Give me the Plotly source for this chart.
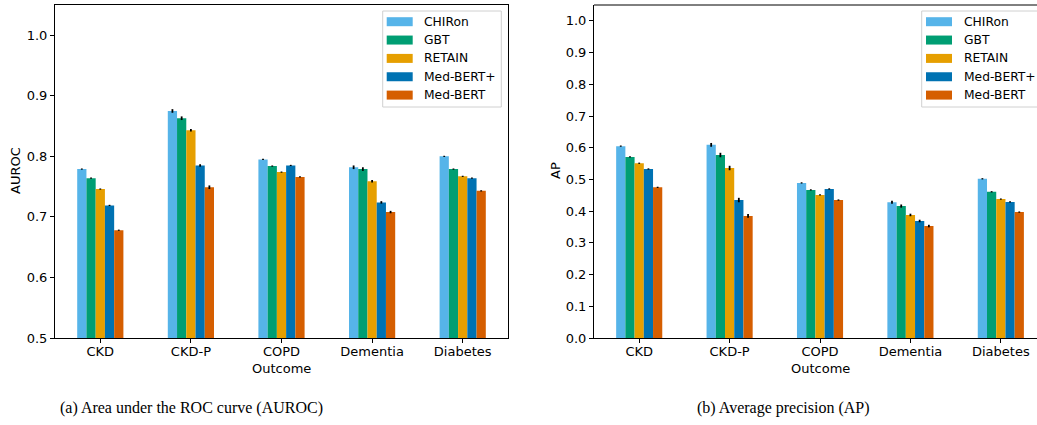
import plotly.graph_objects as go

W, H = 1037, 425

outcomes = ["CKD", "CKD-P", "COPD", "Dementia", "Diabetes"]
models = ["CHIRon", "GBT", "RETAIN", "Med-BERT+", "Med-BERT"]
colors = ["#56B4E9", "#009E73", "#E69F00", "#0072B2", "#D55E00"]

# AUROC values per model (order of outcomes)
auroc_chiron = [0.779, 0.875, 0.795, 0.782, 0.800]
auroc_gbt = [0.764, 0.863, 0.784, 0.779, 0.779]
auroc_retain = [0.746, 0.843, 0.774, 0.759, 0.767]
auroc_medbertp = [0.719, 0.785, 0.785, 0.724, 0.764]
auroc_medbert = [0.678, 0.749, 0.766, 0.708, 0.743]

auroc_err_chiron = [0.001, 0.003, 0.001, 0.003, 0.001]
auroc_err_gbt = [0.001, 0.003, 0.001, 0.003, 0.001]
auroc_err_retain = [0.001, 0.002, 0.001, 0.002, 0.001]
auroc_err_medbertp = [0.001, 0.002, 0.001, 0.002, 0.001]
auroc_err_medbert = [0.001, 0.003, 0.001, 0.002, 0.001]

# Average precision values
ap_chiron = [0.605, 0.609, 0.489, 0.428, 0.502]
ap_gbt = [0.571, 0.577, 0.467, 0.416, 0.461]
ap_retain = [0.551, 0.536, 0.451, 0.388, 0.438]
ap_medbertp = [0.533, 0.435, 0.470, 0.369, 0.429]
ap_medbert = [0.475, 0.385, 0.435, 0.353, 0.397]

ap_err_chiron = [0.002, 0.006, 0.002, 0.005, 0.002]
ap_err_gbt = [0.002, 0.007, 0.002, 0.005, 0.002]
ap_err_retain = [0.002, 0.007, 0.002, 0.004, 0.002]
ap_err_medbertp = [0.002, 0.007, 0.002, 0.004, 0.002]
ap_err_medbert = [0.002, 0.006, 0.002, 0.004, 0.002]

auroc_ticks = ["0.5", "0.6", "0.7", "0.8", "0.9", "1.0"]
ap_ticks = ["0.0", "0.1", "0.2", "0.3", "0.4", "0.5", "0.6", "0.7", "0.8", "0.9", "1.0"]

auroc = [auroc_chiron, auroc_gbt, auroc_retain, auroc_medbertp, auroc_medbert]
auroc_err = [auroc_err_chiron, auroc_err_gbt, auroc_err_retain, auroc_err_medbertp, auroc_err_medbert]
ap = [ap_chiron, ap_gbt, ap_retain, ap_medbertp, ap_medbert]
ap_err = [ap_err_chiron, ap_err_gbt, ap_err_retain, ap_err_medbertp, ap_err_medbert]

fig = go.Figure()

for i, m in enumerate(models):
    fig.add_trace(go.Bar(
        x=outcomes, y=auroc[i], name=m, marker=dict(color=colors[i], line=dict(width=0)),
        error_y=dict(type="data", array=auroc_err[i], color="black", thickness=1.8, width=0),
        xaxis="x", yaxis="y", offsetgroup=str(i), showlegend=False,
    ))
for i, m in enumerate(models):
    fig.add_trace(go.Bar(
        x=outcomes, y=ap[i], name=m, marker=dict(color=colors[i], line=dict(width=0)),
        error_y=dict(type="data", array=ap_err[i], color="black", thickness=1.8, width=0),
        xaxis="x2", yaxis="y2", offsetgroup=str(i), showlegend=False,
    ))

font = dict(family="DejaVu Sans", size=13, color="black")
legend_font = dict(family="DejaVu Sans", size=12.3, color="black")
yb, yt = 1 - 338 / H, 1 - 5 / H

axis_common = dict(showline=True, linecolor="black", linewidth=1, ticks="outside",
                   ticklen=4, tickcolor="black", tickwidth=1, showgrid=False,
                   zeroline=False, tickfont=font, automargin=False)

fig.update_layout(
    width=W, height=H,
    margin=dict(l=0, r=0, t=0, b=0, pad=0, autoexpand=False),
    paper_bgcolor="white", plot_bgcolor="white",
    barmode="group", bargap=0.49, bargroupgap=0,
    font=font,
    showlegend=False,
    hovermode=False,
    xaxis=dict(domain=[55 / W, 508 / W], range=[-0.5, 4.5], anchor="y",
               mirror=True, ticklabelstandoff=-3, **axis_common),
    yaxis=dict(domain=[yb, yt], range=[0.5, 1.05], anchor="x", mirror=True,
               tickvals=[float(t) for t in auroc_ticks], ticktext=auroc_ticks, **axis_common),
    xaxis2=dict(domain=[594 / W, 1.0], range=[-0.5, 4.40], anchor="y2",
                ticklabelstandoff=-3, **axis_common),
    yaxis2=dict(domain=[yb, yt], range=[0, 1.05], anchor="x2",
                tickvals=[float(t) for t in ap_ticks], ticktext=ap_ticks, **axis_common),
)

# top spine of the right panel (right spine lies outside the picture)
fig.add_shape(type="line", xref="paper", yref="paper", x0=594 / W, x1=1.0, y0=yt, y1=yt,
              line=dict(color="black", width=1))


def px(x):
    return x / W


def py(y):
    return 1 - y / H


# legends (matplotlib-style boxes with wide colour patches)
def add_legend(box_x0, box_x1, patch_x0):
    fig.add_shape(type="rect", xref="paper", yref="paper",
                  x0=px(box_x0), x1=px(box_x1), y0=py(11), y1=py(107),
                  line=dict(color="#d0d0d0", width=1), fillcolor="rgba(255,255,255,0.85)",
                  layer="above")
    for i, m in enumerate(models):
        cy = 21.7 + i * 18.35
        fig.add_shape(type="rect", xref="paper", yref="paper",
                      x0=px(patch_x0), x1=px(patch_x0 + 26), y0=py(cy - 4.5), y1=py(cy + 4.5),
                      line=dict(width=0), fillcolor=colors[i], layer="above")
        fig.add_annotation(text=m, xref="paper", yref="paper", x=px(patch_x0 + 35.5), y=py(cy),
                           xanchor="left", yanchor="middle", showarrow=False, font=legend_font)


add_legend(382.7, 501.3, 386.7)
add_legend(921.7, 1040, 926)

ann = [
    dict(text="AUROC", x=15 / W, y=1 - 171 / H, textangle=-90),
    dict(text="AP", x=555 / W, y=1 - 171 / H, textangle=-90),
    dict(text="Outcome", x=281.5 / W, y=1 - 368 / H),
    dict(text="Outcome", x=820 / W, y=1 - 368 / H),
]
for a in ann:
    fig.add_annotation(xref="paper", yref="paper", showarrow=False, xanchor="center",
                       yanchor="middle", font=font, **a)

cap_font = dict(family="Liberation Serif", size=16, color="black")
fig.add_annotation(text="(a) Area under the ROC curve (AUROC)", xref="paper", yref="paper",
                   x=191.5 / W, y=1 - 408 / H, showarrow=False, xanchor="center",
                   yanchor="middle", font=cap_font)
fig.add_annotation(text="(b) Average precision (AP)", xref="paper", yref="paper",
                   x=783 / W, y=1 - 408 / H, showarrow=False, xanchor="center",
                   yanchor="middle", font=cap_font)

page_css = (
    "document.documentElement.style.overflow='hidden';"
    "document.body.style.margin='0';"
    "document.body.style.overflow='hidden';"
)

fig.write_html("out.html", config={"displayModeBar": False, "staticPlot": True},
               post_script=page_css)
